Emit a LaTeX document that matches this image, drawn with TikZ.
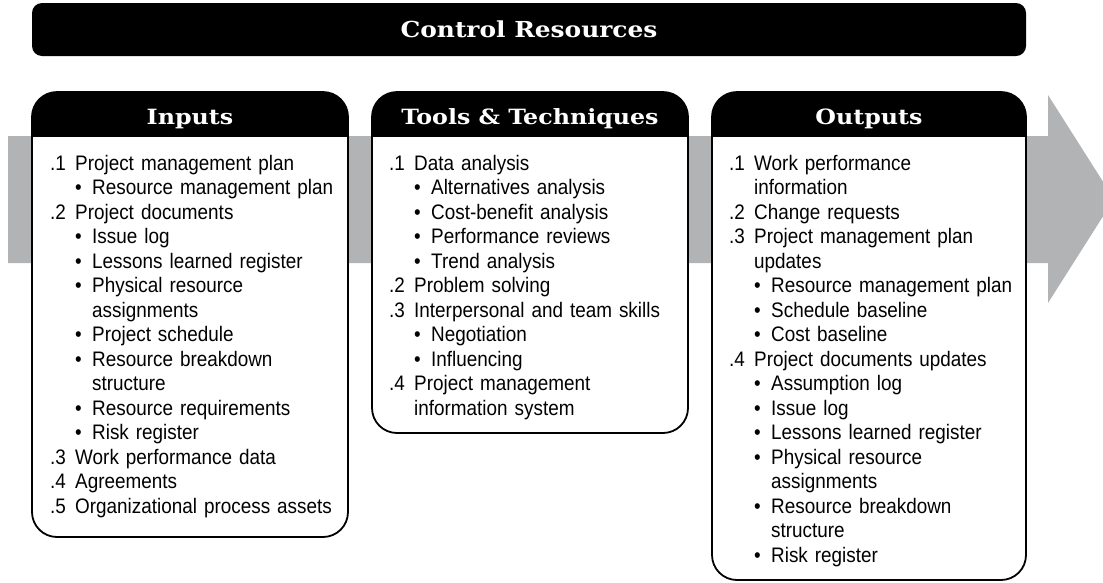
\documentclass[tikz,border=0pt]{standalone}
\usepackage{fontspec}
\setmainfont{Liberation Sans}[FakeStretch=0.9]
\newfontfamily\headfont{DejaVu Serif}[FakeStretch=1.13]
\definecolor{arrowgray}{RGB}{177,179,181}

% list lines
\newcommand{\numline}[2]{\makebox[25pt][l]{#1}#2\par}
\newcommand{\contline}[1]{\hspace*{25pt}#1\par}
\newcommand{\bulline}[1]{\hspace*{25pt}\makebox[17pt][l]{\textbullet}#1\par}
\newcommand{\bulcont}[1]{\hspace*{42pt}#1\par}

\begin{document}
\begin{tikzpicture}[
x=1pt, y=-1pt,
% Define block styles
panel/.style = {rectangle, rounded corners=25pt, draw=black, line width=1.8pt, fill=white, anchor=north west, inner sep=0pt, outer sep=0pt},
headtext/.style = {font=\headfont\bfseries\fontsize{21}{25}\selectfont, text=white, anchor=base, inner sep=0pt},
bodytext/.style = {font=\fontsize{21}{24.5}\selectfont, text width=300pt, align=left, anchor=base west, inner sep=0pt},
titlebar/.style = {rectangle, rounded corners=10pt, fill=black, text=white, minimum width=994pt, minimum height=53pt, inner sep=0pt, font=\headfont\bfseries\fontsize{22}{26}\selectfont}
]
\useasboundingbox (0,0) rectangle (1103,582);
\clip (0,0) rectangle (1103,582);

% Background arrow
\fill [arrowgray] (8,136) -- (1048,136) -- (1048,95) -- (1114,199) -- (1048,303) -- (1048,263) -- (8,263) -- cycle;

% Nodes
\node (titleBar) [titlebar] at (529,29.5) {Control Resources};

\node (inBox) [panel, minimum width=316pt, minimum height=445pt] at (32,92) {};
\node (toolBox) [panel, minimum width=316pt, minimum height=341pt] at (372,92) {};
\node (outBox) [panel, minimum width=314pt, minimum height=488pt] at (712,92) {};

% Header bands
\foreach \b in {inBox, toolBox, outBox} {
  \begin{scope}
    \clip (\b.north west) rectangle ([yshift=-44pt]\b.north east);
    \fill [rounded corners=25pt] (\b.north west) rectangle (\b.south east);
  \end{scope}
}

\node (inHead) [headtext] at (190,124) {Inputs};
\node (toolHead) [headtext] at (530,124) {Tools \& Techniques};
\node (outHead) [headtext] at (869,124) {Outputs};

% Lists
\node (inList) [bodytext] at (50,170) {
  \numline{.1}{Project management plan}
  \bulline{Resource management plan}
  \numline{.2}{Project documents}
  \bulline{Issue log}
  \bulline{Lessons learned register}
  \bulline{Physical resource}
  \bulcont{assignments}
  \bulline{Project schedule}
  \bulline{Resource breakdown}
  \bulcont{structure}
  \bulline{Resource requirements}
  \bulline{Risk register}
  \numline{.3}{Work performance data}
  \numline{.4}{Agreements}
  \numline{.5}{Organizational process assets}};

\node (toolList) [bodytext] at (389,170) {
  \numline{.1}{Data analysis}
  \bulline{Alternatives analysis}
  \bulline{Cost-benefit analysis}
  \bulline{Performance reviews}
  \bulline{Trend analysis}
  \numline{.2}{Problem solving}
  \numline{.3}{Interpersonal and team skills}
  \bulline{Negotiation}
  \bulline{Influencing}
  \numline{.4}{Project management}
  \contline{information system}};

\node (outList) [bodytext] at (729,170) {
  \numline{.1}{Work performance}
  \contline{information}
  \numline{.2}{Change requests}
  \numline{.3}{Project management plan}
  \contline{updates}
  \bulline{Resource management plan}
  \bulline{Schedule baseline}
  \bulline{Cost baseline}
  \numline{.4}{Project documents updates}
  \bulline{Assumption log}
  \bulline{Issue log}
  \bulline{Lessons learned register}
  \bulline{Physical resource}
  \bulcont{assignments}
  \bulline{Resource breakdown}
  \bulcont{structure}
  \bulline{Risk register}};
\end{tikzpicture}
\end{document}
